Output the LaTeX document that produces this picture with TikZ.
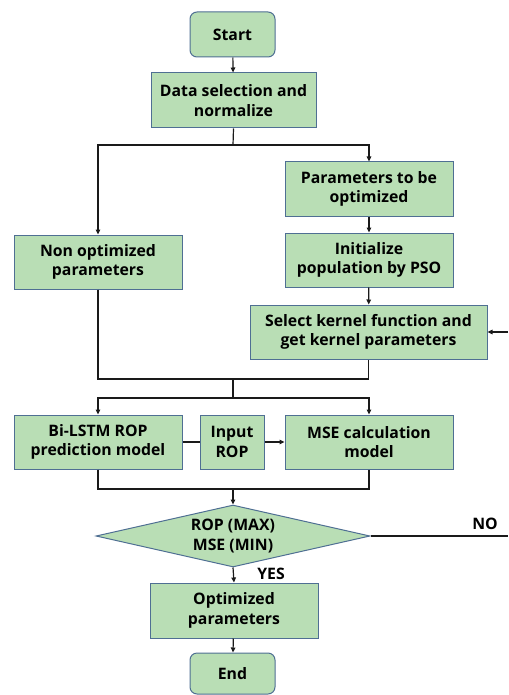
\documentclass[tikz,border=0pt]{standalone}
\usepackage{fontspec}
\setmainfont{Open Sans}
\usetikzlibrary{shapes.geometric,arrows.meta}
\definecolor{boxfill}{HTML}{B9DEB5}
\definecolor{boxline}{HTML}{4F6F93}
\definecolor{conn}{HTML}{1A1A1A}
\begin{document}
\begin{tikzpicture}[x=1pt,y=-1pt,
  box/.style={draw=boxline,fill=boxfill,line width=1pt,align=center,inner sep=0pt,
    font=\bfseries\fontsize{15.8}{19.5}\selectfont},
  term/.style={box,rounded corners=7pt,minimum width=85pt,minimum height=45pt},
  dec/.style={box,diamond,minimum width=274pt,minimum height=62pt,shape aspect=4.4},
  lbl/.style={font=\bfseries\fontsize{15.8}{18}\selectfont,inner sep=0pt},
  con/.style={draw=conn,line width=1.2pt},
  arr/.style={con,-{Triangle[length=5pt,width=4.5pt]}}]
\useasboundingbox (0,0) rectangle (508,695);

\node[term] (start) at (232.5,34.5) {Start};
\node[box,minimum width=165pt,minimum height=55pt] (data) at (233.5,100.5) {Data selection and\\normalize};
\node[box,minimum width=168pt,minimum height=54pt] (params) at (369,189) {Parameters to be\\optimized};
\node[box,minimum width=168pt,minimum height=54pt] (nonopt) at (98,262) {Non optimized\\parameters};
\node[box,minimum width=168pt,minimum height=54pt] (init) at (369,260) {Initialize\\population by PSO};
\node[box,minimum width=237pt,minimum height=54pt] (select) at (368.5,332) {Select kernel function and\\get kernel parameters};
\node[box,minimum width=168pt,minimum height=54pt] (bilstm) at (98,442) {Bi-LSTM ROP\\prediction model};
\node[box,minimum width=64pt,minimum height=54pt] (input) at (232,442) {Input\\ROP};
\node[box,minimum width=168pt,minimum height=54pt] (mse) at (369,442) {MSE calculation\\model};
\node[dec] (dia) at (233,536) {ROP (MAX)\\MSE (MIN)};
\node[box,minimum width=168pt,minimum height=55pt] (opt) at (234,610.5) {Optimized\\parameters};
\node[term,minimum height=41pt] (end) at (232.5,673.5) {End};
\node[lbl] (nolbl) at (485,524) {NO};
\node[lbl] (yeslbl) at (271,574) {YES};

\coordinate (j1) at (233,145);
\coordinate (m) at (233,379);
\coordinate (j3) at (233,398);
\coordinate (j4) at (233,489);
\coordinate (fb) at (508,332);
\coordinate (noend) at (508,536);

\draw[arr] (start) -- (data);
\draw[con] (data.south) -- (j1);
\draw[arr] (j1) -| (nonopt.north);
\draw[arr] (j1) -| (params.north);
\draw[arr] (params) -- (init);
\draw[arr] (init) -- (select);
\draw[arr] (fb) -- (select.east);
\draw[con] (nonopt.south) |- (m) -| (select.south);
\draw[con] (m) -- (j3);
\draw[arr] (j3) -| (bilstm.north);
\draw[arr] (j3) -| (mse.north);
\draw[con] (bilstm) -- (input);
\draw[arr] (input) -- (mse);
\draw[con] (bilstm.south) |- (j4) -| (mse.south);
\draw[arr] (j4) -- (dia.north);
\draw[arr] (dia.south) -- (opt.north);
\draw[arr] (opt) -- (end);
\draw[con] (dia.east) -- (noend);
\end{tikzpicture}
\end{document}
